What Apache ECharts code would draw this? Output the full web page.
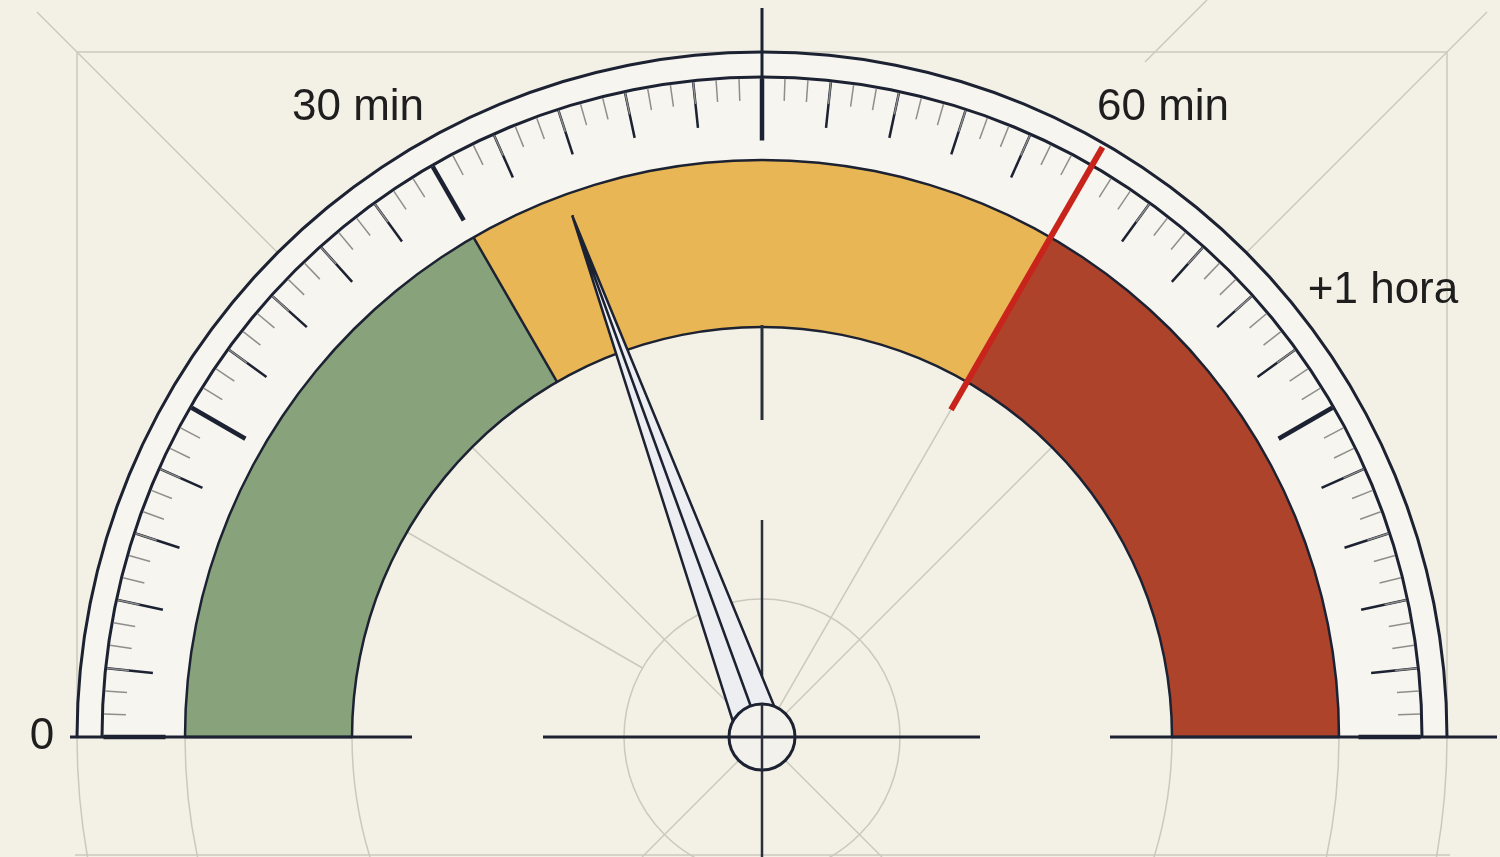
<!DOCTYPE html>
<html><head><meta charset="utf-8">
<script src="https://cdn.jsdelivr.net/npm/echarts@6/dist/echarts.min.js"></script>
<style>html,body{margin:0;padding:0;background:#f3f0e6;}#c{width:1500px;height:857px;}</style>
</head><body><div id="c"></div>
<script>
// ---- data ----
const MIN = 0, MAX = 90;                  // minutes
const zoneLimits = [30, 60, 90];
const zoneColors = ['#88a37b', '#e8b655', '#ae432b'];
const needleValue = [35];
const thresholdValue = [60];
const majorStep = 3;       // minutes per major tick
const longStep = 15;       // minutes per long tick
const minorPerMajor = 3;
const tickLabels = ['0', '30 min', '60 min', '+1 hora'];

// ---- layout ----
const CX = 762, CY = 737;
const labelPositions = [[42, 737], [358, 108], [1163, 108], [1383, 291]];
const DARK = '#1c2232', GRAY = '#cbc8be';

function gauge(extra) {
  return Object.assign({
    type: 'gauge', center: [CX, CY], startAngle: 180, endAngle: 0,
    min: MIN, max: MAX, animation: false, silent: true,
    axisLine: { show: false, lineStyle: { width: 0 } },
    axisTick: { show: false }, splitLine: { show: false },
    axisLabel: { show: false }, pointer: { show: false },
    anchor: { show: false }, title: { show: false }, detail: { show: false },
    data: []
  }, extra);
}
function ring(radius, width, color, z) {
  return gauge({ radius: radius, z: z, axisLine: { show: true, lineStyle: { width: width, color: [[1, color]] } } });
}

const zoneStops = zoneLimits.map((v, i) => [(v - MIN) / (MAX - MIN), zoneColors[i]]);

const series = [
  ring(685, 108, '#f7f5ef', 2),
  ring(686.5, 3, DARK, 3),
  gauge({
    radius: 577, z: 3, splitNumber: zoneLimits.length,
    axisLine: { show: true, lineStyle: { width: 167, color: zoneStops } },
    splitLine: { show: true, length: 167, distance: -167, lineStyle: { color: DARK, width: 2.5 } }
  }),
  ring(578.25, 2.5, DARK, 4),
  ring(411.25, 2.5, DARK, 4),
  gauge({
    radius: 661.5, z: 4, splitNumber: (MAX - MIN) / majorStep,
    axisLine: { show: true, lineStyle: { width: 3, color: [[1, DARK]] } },
    splitLine: { show: true, length: 46, distance: 0, lineStyle: { color: DARK, width: 2.5 } },
    axisTick: { show: true, splitNumber: minorPerMajor, length: 22, distance: 0, lineStyle: { color: '#8e8e8c', width: 1.5 } }
  }),
  gauge({
    radius: 661.5, z: 5, splitNumber: (MAX - MIN) / longStep,
    axisLine: { show: false, lineStyle: { width: 3 } },
    splitLine: { show: true, length: 62, distance: 0, lineStyle: { color: DARK, width: 4.5 } }
  }),
  gauge({
    radius: 661.5, z: 6,
    data: thresholdValue.map(v => ({ value: v })),
    itemStyle: { color: '#c8241c' },
    pointer: { show: true, icon: 'rect', width: 6, length: 303, offsetCenter: [0, -378], itemStyle: { color: '#c8241c' } }
  }),
  gauge({
    radius: 661.5, z: 8,
    data: needleValue.map(v => ({ value: v })),
    itemStyle: { color: '#eceef1', borderColor: DARK, borderWidth: 2.5 },
    pointer: {
      show: true, icon: 'path://M23 0 L46 555 L0 555 Z M23 0 L23 555',
      width: 46, length: 555,
      itemStyle: { color: '#eceef1', borderColor: DARK, borderWidth: 2.5 }
    },
    anchor: { show: true, showAbove: true, size: 66, itemStyle: { color: '#f2f1ec', borderColor: DARK, borderWidth: 3 } }
  })
];

function line(x1, y1, x2, y2, stroke, w, z) {
  return { type: 'line', z: z, silent: true, shape: { x1, y1, x2, y2 }, style: { stroke: stroke, lineWidth: w } };
}
function polar(r, degFromLeft) {
  const a = degFromLeft * Math.PI / 180;
  return [CX - r * Math.cos(a), CY - r * Math.sin(a)];
}
const g = [];
// construction lines (behind)
g.push({ type: 'polyline', z: 0, silent: true, shape: { points: [[77, 737], [77, 52], [1447, 52], [1447, 737]] }, style: { stroke: GRAY, lineWidth: 1.5, fill: null } });
g.push(line(75, 855, 1450, 855, GRAY, 1.5, 0));
g.push(line(37, 12, 882, 857, GRAY, 1.5, 0));
g.push(line(1487, 12, 642, 857, GRAY, 1.5, 0));
g.push(line(1207, 0, 1145, 62, GRAY, 1.5, 0));
[685, 577, 410, 138].forEach(r => g.push({ type: 'circle', z: 0, silent: true, shape: { cx: CX, cy: CY, r: r }, style: { stroke: GRAY, lineWidth: 1.5, fill: null } }));
(function () {
  const a = polar(410, 30), b = polar(138, 30);
  g.push(line(a[0], a[1], b[0], b[1], GRAY, 1.5, 0));
  const c = polar(378, 120), d = polar(34, 120);
  g.push(line(c[0], c[1], d[0], d[1], GRAY, 1.5, 0));
})();
g.push(line(CX, 520, CX, 857, '#2a2f3a', 2.5, 1));
// dark lines above
g.push(line(70, CY, 412, CY, DARK, 3, 100));
g.push(line(543, CY, 980, CY, DARK, 3, 100));
g.push(line(1110, CY, 1497, CY, DARK, 3, 100));
g.push(line(CX, 8, CX, 140, DARK, 3, 100));
g.push(line(CX, 325, CX, 420, '#2a2f3a', 3, 100));
g.push(line(CX, 704, CX, 770, '#2a2f3a', 2.5, 100));
// labels
tickLabels.forEach((t, i) => g.push({
  type: 'text', z: 100, silent: true, x: labelPositions[i][0], y: labelPositions[i][1],
  style: { text: t, fontSize: 44, fontFamily: '"Liberation Sans", Arial, sans-serif', fill: '#1e1e1e', align: 'center', verticalAlign: 'middle' }
}));

const chart = echarts.init(document.getElementById('c'));
chart.setOption({ backgroundColor: '#f3f0e6', animation: false, series: series, graphic: { elements: g } });
</script></body></html>
